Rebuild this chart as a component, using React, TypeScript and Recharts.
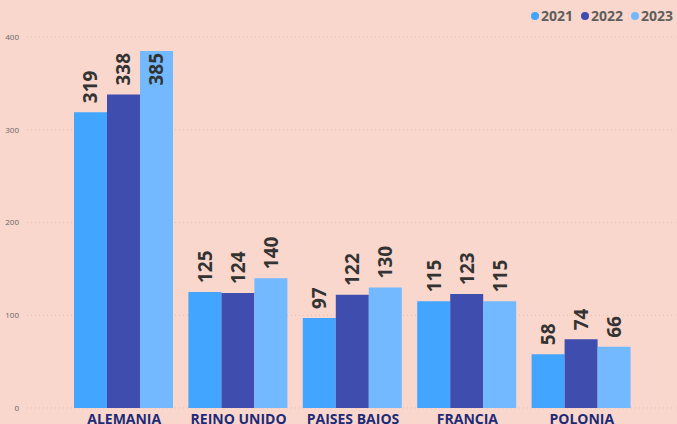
import { BarChart, Bar, XAxis, YAxis, CartesianGrid, LabelList } from "recharts";

const countries = ["ALEMANIA", "REINO UNIDO", "PAISES BAJOS", "FRANCIA", "POLONIA"];
const values2021 = [319, 125, 97, 115, 58];
const values2022 = [338, 124, 122, 123, 74];
const values2023 = [385, 140, 130, 115, 66];
const yTicks = [0, 100, 200, 300, 400];

const series = [
  { key: "2021", color: "#42A5FF" },
  { key: "2022", color: "#3F4DAF" },
  { key: "2023", color: "#72B9FF" },
];

const data = countries.map((name, i) => ({
  name,
  "2021": values2021[i],
  "2022": values2022[i],
  "2023": values2023[i],
}));

const LABEL_SIZE = 19;

// rotated value label; goes inside the bar when there is no room above
const BarValue = (props: any) => {
  const { x, y, width, value } = props;
  const cx = x + width / 2;
  const textLen = String(value).length * LABEL_SIZE * 0.6;
  const inside = y - 9 - textLen < 30;
  const cy = inside ? y + 2 : y - 9;
  return (
    <text
      x={cx}
      y={cy}
      transform={`rotate(-90, ${cx}, ${cy})`}
      textAnchor={inside ? "end" : "start"}
      dominantBaseline="central"
      fontSize={LABEL_SIZE}
      fontWeight="bold"
      fill="#333333"
      fontFamily="'Open Sans', 'DejaVu Sans', sans-serif"
    >
      {value}
    </text>
  );
};

const CountryTick = (props: any) => {
  const { x, y, payload } = props;
  return (
    <text
      x={x}
      y={y + 8}
      textAnchor="middle"
      fontSize={14}
      fontWeight="bold"
      fill="#1E2A78"
      fontFamily="'Open Sans', 'DejaVu Sans', sans-serif"
    >
      {payload.value}
    </text>
  );
};

export default function App() {
  return (
    <div
      style={{
        position: "fixed",
        top: 0,
        left: 0,
        width: 677,
        height: 424,
        overflow: "hidden",
        background: "#FAD7CC",
        fontFamily: "'Open Sans', 'DejaVu Sans', sans-serif",
      }}
    >
      <div
        style={{
          position: "absolute",
          top: 6,
          right: 4,
          display: "flex",
          gap: 8,
          fontSize: 14,
          fontWeight: "bold",
          color: "#605E5C",
          zIndex: 2,
        }}
      >
        {series.map((s) => (
          <span key={s.key} style={{ display: "flex", alignItems: "center" }}>
            <span
              style={{
                width: 8,
                height: 8,
                borderRadius: 4,
                background: s.color,
                marginRight: 2,
                display: "inline-block",
              }}
            />
            {s.key}
          </span>
        ))}
      </div>
      <BarChart
        width={677}
        height={440}
        data={data}
        margin={{ top: 37, right: 0, bottom: 2, left: 0 }}
        barGap={0}
        barCategoryGap={7}
      >
        <CartesianGrid vertical={false} stroke="#E3BFB4" strokeDasharray="1 3" />
        <XAxis
          dataKey="name"
          axisLine={false}
          tickLine={false}
          height={30}
          padding={{ left: 40, right: 38 }}
          tick={<CountryTick />}
          interval={0}
        />
        <YAxis
          width={27}
          domain={[0, 400]}
          ticks={yTicks}
          axisLine={false}
          tickLine={false}
          tick={{ fontSize: 8, fill: "#666666" }}
        />
        {series.map((s) => (
          <Bar key={s.key} dataKey={s.key} fill={s.color} isAnimationActive={false}>
            <LabelList dataKey={s.key} content={<BarValue />} />
          </Bar>
        ))}
      </BarChart>
    </div>
  );
}
